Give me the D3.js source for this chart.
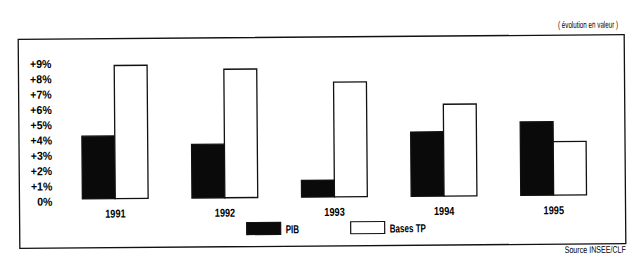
<!DOCTYPE html>
<html>
<head>
<meta charset="utf-8">
<script src="https://cdn.jsdelivr.net/npm/d3@7"></script>
<style>
  html, body { margin: 0; padding: 0; background: #fff; }
  svg { display: block; }
  text { font-family: "Liberation Sans Narrow", "Arial Narrow", "Liberation Sans", Arial, sans-serif; fill: #000; }
</style>
</head>
<body>
<svg id="chart" width="643" height="266"></svg>
<script>
  // data
  var years = ['1991', '1992', '1993', '1994', '1995'];
  var pib = [4.1, 3.5, 1.1, 4.2, 4.8];
  var basesTP = [8.7, 8.4, 7.5, 6.0, 3.5];
  var yTicks = [0, 1, 2, 3, 4, 5, 6, 7, 8, 9];
  var seriesNames = ['PIB', 'Bases TP'];

  var svg = d3.select('#chart');
  // the scan is a little tilted
  var g = svg.append('g').attr('transform', 'rotate(-0.45 321 140)');

  // squeeze a text horizontally around its anchor (narrow font look)
  function condense(sel, factor) {
    sel.each(function () {
      var ax = +(this.getAttribute('x') || 0);
      d3.select(this).attr('transform',
        'translate(' + ax + ',0) scale(' + factor + ',1) translate(' + (-ax) + ',0)');
    });
  }

  g.append('rect')
    .attr('x', 19).attr('y', 37)
    .attr('width', 606).attr('height', 209)
    .attr('fill', 'none').attr('stroke', '#111').attr('stroke-width', 1.3);

  var x = d3.scaleBand().domain(years).range([60, 608]).paddingInner(0.4).paddingOuter(0.2);
  var x1 = d3.scaleBand().domain(seriesNames).range([0, x.bandwidth()]);
  var y = d3.scaleLinear().domain([0, 9]).range([197, 59.3]);

  var rows = years.map(function (yr, i) {
    return { year: yr, values: [{ key: 'PIB', v: pib[i] }, { key: 'Bases TP', v: basesTP[i] }] };
  });

  var groups = g.selectAll('g.year').data(rows).enter().append('g')
    .attr('class', 'year')
    .attr('transform', function (d) { return 'translate(' + x(d.year) + ',0)'; });

  groups.selectAll('rect').data(function (d) { return d.values; }).enter().append('rect')
    .attr('x', function (d) { return x1(d.key); })
    .attr('y', function (d) { return y(d.v); })
    .attr('width', x1.bandwidth())
    .attr('height', function (d) { return y(0) - y(d.v); })
    .attr('fill', function (d) { return d.key === 'PIB' ? '#0a0a0a' : '#fff'; })
    .attr('stroke', '#111')
    .attr('stroke-width', 1.3);

  // y axis: labels only
  var yAxis = g.append('g').attr('transform', 'translate(52,0)')
    .call(d3.axisLeft(y).tickValues(yTicks).tickSize(0).tickPadding(0)
      .tickFormat(function (d) { return d === 0 ? '0%' : '+' + d + '%'; }));
  yAxis.select('.domain').remove();
  yAxis.selectAll('text')
    .attr('dy', null).attr('y', 6)
    .style('font-size', '11.5px').style('font-weight', 'bold')
    .call(condense, 0.92);

  // x axis: year labels
  var xAxis = g.append('g').attr('transform', 'translate(0,197)')
    .call(d3.axisBottom(x).tickSize(0).tickPadding(0));
  xAxis.select('.domain').remove();
  xAxis.selectAll('text')
    .attr('dy', null).attr('y', 19)
    .style('font-size', '11.5px').style('font-weight', 'bold')
    .call(condense, 0.8);

  // legend
  var legendX = [246, 350];
  var legend = g.selectAll('g.legend').data(seriesNames).enter().append('g')
    .attr('class', 'legend')
    .attr('transform', function (d, i) { return 'translate(' + legendX[i] + ',222)'; });
  legend.append('rect')
    .attr('width', 34).attr('height', 12)
    .attr('fill', function (d, i) { return i === 0 ? '#0a0a0a' : '#fff'; })
    .attr('stroke', '#111').attr('stroke-width', 1.2);
  legend.append('text')
    .attr('x', 39).attr('y', 11)
    .style('font-size', '11.5px').style('font-weight', 'bold')
    .text(function (d) { return d; })
    .call(condense, 0.7);

  g.append('text')
    .attr('x', 619).attr('y', 30).attr('text-anchor', 'end')
    .style('font-size', '9.5px')
    .text('( évolution en valeur )')
    .call(condense, 0.66);

  g.append('text')
    .attr('x', 625).attr('y', 255).attr('text-anchor', 'end')
    .style('font-size', '9.5px')
    .text('Source INSEE/CLF')
    .call(condense, 0.75);
</script>
</body>
</html>
